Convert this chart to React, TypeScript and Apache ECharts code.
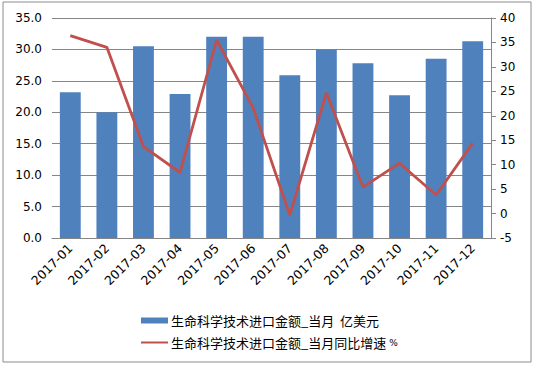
import React, { useEffect, useRef } from "react";
import * as echarts from "echarts";

const categories = ["2017-01", "2017-02", "2017-03", "2017-04", "2017-05", "2017-06", "2017-07", "2017-08", "2017-09", "2017-10", "2017-11", "2017-12"];
const importValues = [23.2, 20.0, 30.5, 22.9, 32.0, 32.0, 25.9, 30.0, 27.8, 22.7, 28.5, 31.3];
const growthValues = [36.4, 34.0, 13.7, 8.4, 35.5, 21.6, -0.3, 24.7, 5.4, 10.3, 3.8, 14.4];
const barName = "生命科学技术进口金额_当月  亿美元";
const lineName = "生命科学技术进口金额_当月同比增速 %";

export default function App() {
  const ref = useRef<HTMLDivElement>(null);
  useEffect(() => {
    const chart = echarts.init(ref.current!, null, { renderer: "svg" });
    chart.setOption({
      animation: false,
      backgroundColor: "#ffffff",
      textStyle: { fontFamily: "DejaVu Sans, sans-serif" },
      graphic: [
        {
          type: "rect",
          shape: { x: 3, y: 2, width: 528, height: 360 },
          style: { fill: "none", stroke: "#8c8c8c", lineWidth: 1 },
          silent: true,
        },
      ],
      grid: { left: 52, right: 44, top: 18, bottom: 128 },
      legend: {
        orient: "vertical",
        left: 136,
        top: 309,
        itemGap: 9,
        itemWidth: 27,
        itemHeight: 6,
        itemGap: 9,
        textStyle: {
          fontSize: 13,
          color: "#000",
          fontFamily: "Noto Sans CJK SC",
          padding: [0, 0, 0, -2],
          rich: { s: { fontSize: 9, color: "#000", fontFamily: "DejaVu Sans" } },
        },
        formatter: (name: string) => {
          if (name === lineName) return "生命科学技术进口金额_当月同比增速 {s|%}";
          return name;
        },
        data: [
          { name: barName, icon: "rect" },
          { name: lineName, icon: "path://M0,0h27v2h-27z" },
        ],
      },
      xAxis: {
        type: "category",
        data: categories,
        axisLine: { lineStyle: { color: "#868686" } },
        axisTick: { show: false },
        axisLabel: { rotate: 45, fontSize: 12.5, color: "#000", margin: 8, interval: 0 },
      },
      yAxis: [
        {
          type: "value",
          min: 0,
          max: 35,
          interval: 5,
          axisLine: { show: false },
          axisTick: { show: false },
          splitLine: { lineStyle: { color: "#868686" } },
          axisLabel: { formatter: (v: number) => v.toFixed(1), fontSize: 12, color: "#000", margin: 10 },
        },
        {
          type: "value",
          min: -5,
          max: 40,
          interval: 5,
          position: "right",
          axisLine: { show: true, lineStyle: { color: "#868686" } },
          axisTick: { show: true, length: 5, lineStyle: { color: "#868686" } },
          splitLine: { show: false },
          axisLabel: { fontSize: 12, color: "#000", margin: 9 },
        },
      ],
      series: [
        {
          name: barName,
          type: "bar",
          data: importValues,
          yAxisIndex: 0,
          barCategoryGap: "43%",
          itemStyle: { color: "#4f81bd" },
        },
        {
          name: lineName,
          type: "line",
          data: growthValues,
          yAxisIndex: 1,
          symbol: "none",
          lineStyle: { color: "#c0504d", width: 2.8 },
          itemStyle: { color: "#c0504d" },
        },
      ],
    });
    return () => chart.dispose();
  }, []);
  return <div ref={ref} style={{ position: "absolute", left: 0, top: 0, width: 535, height: 366 }} />;
}
